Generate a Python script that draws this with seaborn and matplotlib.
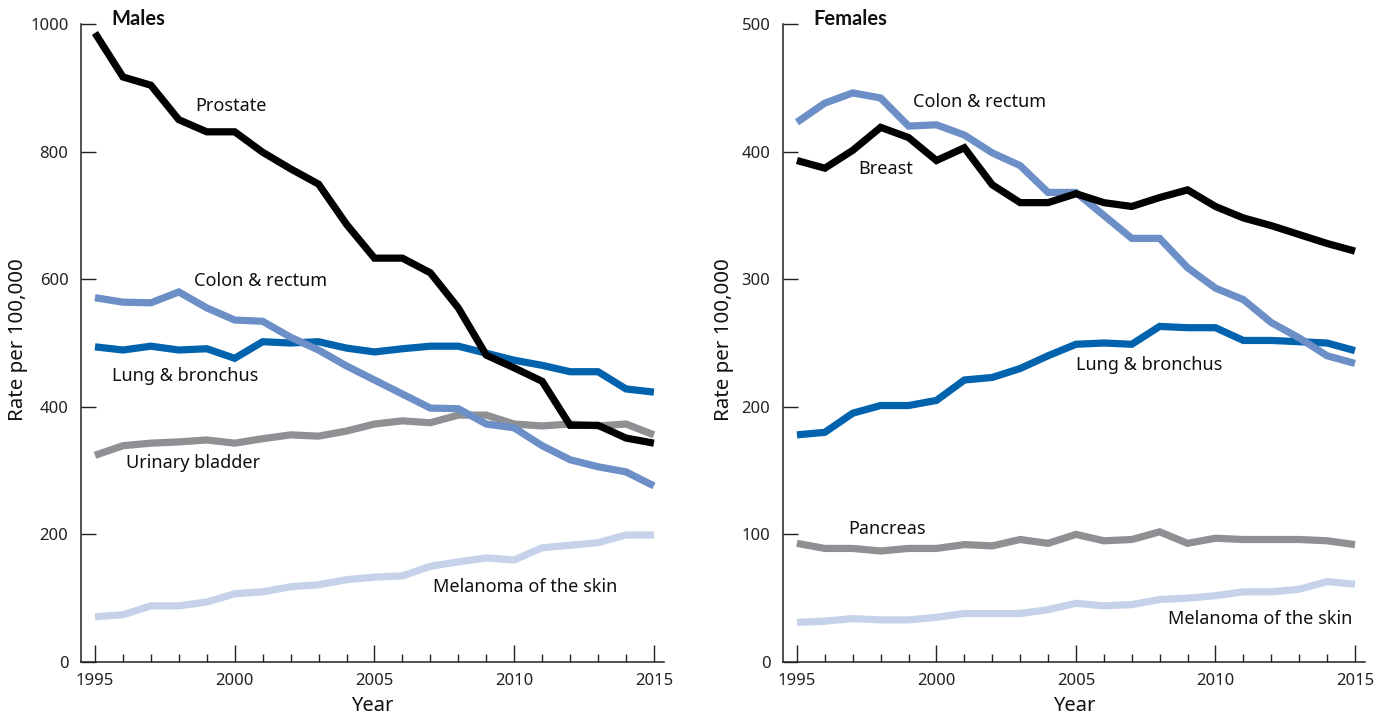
import numpy as np
import pandas as pd
import matplotlib
matplotlib.use("Agg")
import matplotlib.pyplot as plt
from matplotlib.ticker import MultipleLocator
import seaborn as sns

years = list(range(1995, 2016))

male_prostate = [986, 917, 904, 850, 831, 831, 799, 773, 749, 686, 633, 633, 610, 555, 481, 461, 440, 371, 371, 351, 343]
male_colon = [571, 564, 563, 580, 555, 536, 534, 509, 489, 464, 442, 420, 398, 397, 373, 367, 339, 317, 306, 298, 276]
male_lung = [494, 489, 495, 489, 491, 476, 502, 500, 502, 492, 486, 491, 495, 495, 484, 473, 465, 455, 455, 428, 423]
male_bladder = [324, 339, 343, 345, 348, 343, 350, 356, 354, 362, 373, 378, 375, 387, 387, 373, 370, 373, 370, 373, 356]
male_melanoma = [71, 74, 88, 88, 94, 107, 110, 118, 121, 129, 133, 135, 150, 157, 163, 160, 179, 183, 187, 199, 199]

female_breast = [393, 387, 401, 419, 411, 393, 403, 374, 360, 360, 367, 360, 357, 364, 370, 357, 348, 342, 335, 328, 322]
female_colon = [423, 438, 446, 442, 420, 421, 413, 399, 389, 368, 368, 350, 332, 332, 309, 293, 284, 266, 254, 240, 234]
female_lung = [178, 180, 195, 201, 201, 205, 221, 223, 230, 240, 249, 250, 249, 263, 262, 262, 252, 252, 251, 250, 244]
female_pancreas = [93, 89, 89, 87, 89, 89, 92, 91, 96, 93, 100, 95, 96, 102, 93, 97, 96, 96, 96, 95, 92]
female_melanoma = [31, 32, 34, 33, 33, 35, 38, 38, 38, 41, 46, 44, 45, 49, 50, 52, 55, 55, 57, 63, 61]

male_sites = ["Prostate", "Colon & rectum", "Lung & bronchus", "Urinary bladder", "Melanoma of the skin"]
female_sites = ["Breast", "Colon & rectum", "Lung & bronchus", "Pancreas", "Melanoma of the skin"]

colors = {
    "Prostate": "#000000",
    "Breast": "#000000",
    "Colon & rectum": "#6b8fc6",
    "Lung & bronchus": "#0162ad",
    "Urinary bladder": "#8f9093",
    "Pancreas": "#8f9093",
    "Melanoma of the skin": "#c5d2ea",
}

def long_df(sites, series):
    rows = []
    for s, vals in zip(sites, series):
        for y, v in zip(years, vals):
            rows.append({"Year": y, "Site": s, "Rate": v})
    return pd.DataFrame(rows)

df_m = long_df(male_sites, [male_prostate, male_colon, male_lung, male_bladder, male_melanoma])
df_f = long_df(female_sites, [female_breast, female_colon, female_lung, female_pancreas, female_melanoma])

# label positions (year, value)
male_labels = {
    "Prostate": (1998.6, 871),
    "Colon & rectum": (1998.55, 597),
    "Lung & bronchus": (1995.6, 448),
    "Urinary bladder": (1996.1, 312),
    "Melanoma of the skin": (2007.1, 118),
}
female_labels = {
    "Colon & rectum": (1999.15, 439),
    "Breast": (1997.2, 386),
    "Lung & bronchus": (2005.0, 233),
    "Pancreas": (1996.85, 104),
    "Melanoma of the skin": (2008.3, 34),
}

sns.set_style("white")
plt.rcParams['font.family'] = ['Noto Sans', 'DejaVu Sans']

fig = plt.figure(figsize=(13.85, 7.17), dpi=100)
ax1 = fig.add_axes([81/1385, (717-662)/717, 583/1385, 638/717])
ax2 = fig.add_axes([783/1385, (717-662)/717, 582/1385, 638/717])

def style(ax, df, sites, labels, ymax, ystep, title, ylab_x):
    order = sites[::-1]
    sns.lineplot(data=df, x="Year", y="Rate", hue="Site", hue_order=order,
                 palette=colors, linewidth=5.2, legend=False, ax=ax)
    for ln in ax.get_lines():
        ln.set_solid_capstyle("butt")
        ln.set_solid_joinstyle("miter")
    ax.set_xlim(1994.5, 2015.36)
    ax.set_ylim(0, ymax)
    ax.xaxis.set_major_locator(MultipleLocator(5))
    ax.xaxis.set_minor_locator(MultipleLocator(1))
    ax.yaxis.set_major_locator(MultipleLocator(ystep))
    ax.tick_params(axis="x", which="major", direction="in", length=12, width=1, pad=8,
                   labelsize=12, color="#222222", labelcolor="#222222", bottom=True)
    ax.tick_params(axis="x", which="minor", direction="in", length=6, width=1, color="#222222", bottom=True)
    ax.tick_params(axis="y", which="major", direction="in", length=10.5, width=1, pad=9,
                   labelsize=12, color="#222222", labelcolor="#222222", left=True)
    for side in ["top", "right"]:
        ax.spines[side].set_visible(False)
    for side in ["left", "bottom"]:
        ax.spines[side].set_color("#222222")
        ax.spines[side].set_linewidth(1.1)
    ax.set_xlabel("Year", fontsize=14.5, labelpad=5, color="#111111")
    ax.set_ylabel("Rate per 100,000", fontsize=14.8, color="#111111")
    ax.yaxis.set_label_coords(ylab_x, 0.505)
    ax.text(0.052, 1.008, title, transform=ax.transAxes, fontsize=14.5, fontweight="bold",
            family=["Lato", "DejaVu Sans"], va="center", ha="left", color="#111111")
    for s, (x, y) in labels.items():
        ax.text(x, y, s, fontsize=13, va="center", ha="left", color="#111111")

style(ax1, df_m, male_sites, male_labels, 1000, 200, "Males", (28 - 81) / 583)
style(ax2, df_f, female_sites, female_labels, 500, 100, "Females", (734 - 783) / 582)

fig.savefig("out.png", dpi=100)
